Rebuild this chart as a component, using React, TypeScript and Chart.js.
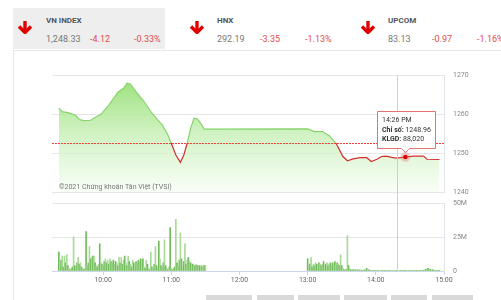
import React, { useEffect, useRef } from "react";
import { Chart, registerables } from "chart.js";
Chart.register(...registerables);

// ---------- DATA ----------
const REF_CLOSE = 1252.45;
const priceTimes = [561,564,570,576,579,583,589,594,598,605,613,618,621,624,629,636,643,648,652,657,660,664,668,671,674,677,680,683,686,689,780,786,793,799,805,808,811,815,820,826,832,836,841,845,849,854,858,866,873,882,885,896];
const priceValues = [1261.5,1260.6,1260.3,1259.6,1258.6,1258.3,1258.4,1259.3,1259.9,1262.3,1265.6,1266.6,1267.9,1267.7,1265.7,1263.2,1260.2,1258.5,1257.2,1254.6,1252.5,1249.5,1247.6,1249.5,1252.5,1256.3,1258.9,1258.7,1257.6,1256.1,1256.2,1255.5,1255.5,1254.4,1252.5,1250.8,1249.1,1248.0,1248.5,1248.8,1248.8,1247.8,1248.4,1249.1,1249.2,1248.9,1248.7,1248.96,1249.2,1249.2,1248.4,1248.33];

const volMorningStart = 561;
const volMorning = [
  14,4,8,11,3,11,6,12,4,2,
  1,2,3,25,4,3,6,10,5,6,
  3,2,1,2,29,4,6,18,9,10,
  11,11,6,4,3,5,20,6,5,4,
  7,9,6,8,5,9,7,6,8,5,
  7,6,4,10,6,10,5,8,11,6,
  4,11,7,5,3,8,6,4,7,6,
  8,7,9,8,9,3,2,8,5,2,
  1,14,3,2,5,18,4,3,22,9,
  4,3,6,23,4,2,1,3,32,2,
  1,2,3,38,6,3,8,28,9,4,
  7,20,5,8,10,7,6,5,5,4,
  4,5,4,4,4,4,3,4,4,4,
];
const volAfternoonStart = 780;
const volAfternoon = [
  9,3,5,10,3,5,4,6,5,4,
  6,5,4,5,7,4,5,6,4,5,
  6,4,6,5,7,4,6,5,4,12,
  4,2,1,1,1,26,4,
  1.5,1,0.8,1,0.8,1,0.6,0.8,1,0.6,0.8,0.5,0.6,0.8,1,2,1,0.8,0.5,
  0.4,0.3,0.5,0,0.4,0.3,0.5,0.4,0,0.3,
  0.5,0.4,0.3,0,0.4,0.5,0.3,0.4,0,0.3,
  0.4,0.5,0.3,0.4,0,0.3,0.4,0.3,0.2,0.3,
  0.08802,0.4,0,0.3,0.5,0.4,0.3,0,0.4,0.3,
  0.5,0.4,0.3,0.5,0.4,0.3,0.6,0.8,1.2,1.8,
  2,1.5,1.2,0.8,1,0.6,0.5,0.4,0.3,0.3,
  0.2,
];

const xTickValues = [600, 660, 720, 780, 840, 900];
const xTickLabels = ["10:00", "11:00", "12:00", "13:00", "14:00", "15:00"];
const priceTicks = [1240, 1250, 1260, 1270];
const priceTickLabels = ["1240", "1250", "1260", "1270"];
const volTicks = [0, 25, 50];
const volTickLabels = ["0", "25M", "50M"];

const TOOLTIP_TIME = 866;
const CROSSHAIR_TIME = 859;

const indices = [
  { name: "VN INDEX", value: "1,248.33", change: "-4.12", pct: "-0.33%" },
  { name: "HNX", value: "292.19", change: "-3.35", pct: "-1.13%" },
  { name: "UPCOM", value: "83.13", change: "-0.97", pct: "-1.16%" },
];

const X_MIN = 555;
const X_MAX = 900;
const FONT = "Roboto, 'Noto Sans', sans-serif";

function Arrow({ left, top }: { left: number; top: number }) {
  return (
    <svg style={{ position: "absolute", left, top }} width={16} height={13} viewBox="0 0 16 13">
      <line x1={8} y1={0} x2={8} y2={11} stroke="#e00000" strokeWidth={3.4} />
      <polyline points="2,5.5 8,11.5 14,5.5" fill="none" stroke="#e00000" strokeWidth={3.4} />
    </svg>
  );
}

export default function App() {
  const priceRef = useRef<HTMLCanvasElement>(null);
  const volRef = useRef<HTMLCanvasElement>(null);

  useEffect(() => {
    Chart.defaults.font.family = FONT;
    const volTimes: number[] = [];
    const volValues: number[] = [];
    volMorning.forEach((v, i) => { volTimes.push(volMorningStart + i); volValues.push(v); });
    volAfternoon.forEach((v, i) => { volTimes.push(volAfternoonStart + i); volValues.push(v); });

    const volChart = new Chart(volRef.current!, {
      type: "bar",
      data: {
        datasets: [{
          data: volTimes.map((t, i) => ({ x: t, y: volValues[i] })),
          backgroundColor: (c: any) => (c.dataIndex % 2 ? "#a9da98" : "#72bc5c"),
          barThickness: 1,
          borderWidth: 0,
        }],
      },
      options: {
        animation: false,
        responsive: false,
        layout: { padding: { left: 52, top: 203, right: 0, bottom: 0 } },
        plugins: { legend: { display: false }, tooltip: { enabled: false } },
        scales: {
          x: {
            type: "linear",
            offset: false,
            min: X_MIN,
            max: X_MAX,
            afterBuildTicks: (s: any) => { s.ticks = xTickValues.map((v) => ({ value: v })); },
            afterFit: (s: any) => { s.height = 29; },
            grid: { offset: false, drawOnChartArea: false, drawTicks: true, tickLength: 4, color: "#ccd6eb" },
            border: { display: true, color: "#ccd6eb" },
            ticks: {
              padding: 1,
              color: "#666",
              font: { size: 7, family: FONT },
              maxRotation: 0,
              autoSkip: false,
              callback: (v: any) => xTickLabels[xTickValues.indexOf(Number(v))] ?? "",
            },
          },
          y: {
            position: "right",
            min: 0,
            max: 50,
            afterBuildTicks: (s: any) => { s.ticks = volTicks.map((v) => ({ value: v })); },
            afterFit: (s: any) => { s.width = 57; },
            grid: { color: "#e6e6e6", drawTicks: false },
            border: { display: true, color: "#dfe3ea" },
            ticks: {
              padding: 9,
              color: "#888",
              font: { size: 7, family: FONT },
              callback: (v: any) => volTickLabels[volTicks.indexOf(Number(v))] ?? "",
            },
          },
        },
      },
    });

    const strokeGrad = (chart: any) => {
      const { ctx, chartArea, scales } = chart;
      if (!chartArea) return "#86d46a";
      const yRef = scales.y.getPixelForValue(REF_CLOSE);
      const f = Math.min(1, Math.max(0, (yRef - chartArea.top) / (chartArea.bottom - chartArea.top)));
      const g = ctx.createLinearGradient(0, chartArea.top, 0, chartArea.bottom);
      g.addColorStop(0, "#86d46a");
      g.addColorStop(f, "#86d46a");
      g.addColorStop(f, "#d32f2f");
      g.addColorStop(1, "#d32f2f");
      return g;
    };
    const fillGrad = (chart: any) => {
      const { ctx, chartArea } = chart;
      if (!chartArea) return "rgba(160,225,130,0.6)";
      const g = ctx.createLinearGradient(0, chartArea.top, 0, chartArea.bottom);
      g.addColorStop(0, "rgba(146,222,110,0.95)");
      g.addColorStop(0.5, "rgba(200,240,184,0.85)");
      g.addColorStop(1, "rgba(246,253,243,0.7)");
      return g;
    };

    const overlayPlugin = {
      id: "overlay",
      afterDatasetsDraw(chart: any) {
        const { ctx, chartArea, scales } = chart;
        ctx.save();
        // reference (previous close) dotted line, drawn as crisp pixel dots
        const yRef = Math.round(scales.y.getPixelForValue(REF_CLOSE));
        ctx.fillStyle = "#f0443a";
        for (let x = Math.round(chartArea.left); x < chartArea.right; x += 3) {
          ctx.fillRect(x, yRef, 2, 1);
        }
        // crosshair
        const cx = Math.round(scales.x.getPixelForValue(CROSSHAIR_TIME)) + 0.5;
        const bottom = volChart.chartArea ? volChart.chartArea.bottom : chartArea.bottom;
        ctx.strokeStyle = "#cfcfcf";
        ctx.lineWidth = 1;
        ctx.beginPath();
        ctx.moveTo(cx, chartArea.top);
        ctx.lineTo(cx, bottom);
        ctx.stroke();
        // copyright
        ctx.fillStyle = "#777";
        ctx.font = `7px ${FONT}`;
        ctx.textBaseline = "middle";
        ctx.fillText("©2021 Chứng khoán Tân Việt (TVSI)", chartArea.left + 7, chartArea.bottom - 5);
        ctx.restore();
      },
      afterDraw(chart: any) {
        const { ctx } = chart;
        const idx = priceTimes.indexOf(TOOLTIP_TIME);
        const el = chart.getDatasetMeta(0).data[idx];
        if (!el) return;
        const px = el.x, py = el.y;
        ctx.save();
        ctx.beginPath();
        ctx.arc(px, py, 5, 0, Math.PI * 2);
        ctx.fillStyle = "rgba(225,120,120,0.35)";
        ctx.fill();
        ctx.beginPath();
        ctx.arc(px, py, 2.3, 0, Math.PI * 2);
        ctx.fillStyle = "#e00000";
        ctx.fill();
        const w = 58, h = 37;
        const bx = Math.round(px - 28) + 0.5;
        const by = Math.round(py - 9 - h) + 0.5;
        ctx.beginPath();
        ctx.moveTo(bx, by);
        ctx.lineTo(bx + w, by);
        ctx.lineTo(bx + w, by + h);
        ctx.lineTo(px + 4, by + h);
        ctx.lineTo(px, by + h + 4);
        ctx.lineTo(px - 4, by + h);
        ctx.lineTo(bx, by + h);
        ctx.closePath();
        ctx.fillStyle = "rgba(255,255,255,0.93)";
        ctx.fill();
        ctx.strokeStyle = "#e57373";
        ctx.lineWidth = 1;
        ctx.stroke();
        const hh = Math.floor(TOOLTIP_TIME / 60);
        const mm = TOOLTIP_TIME % 60;
        const title = `${hh}:${String(mm).padStart(2, "0")} ${hh >= 12 ? "PM" : "AM"}`;
        const vIdx = TOOLTIP_TIME - volAfternoonStart;
        const vol = Math.round(volAfternoon[vIdx] * 1e6).toLocaleString("en-US");
        ctx.textBaseline = "middle";
        ctx.fillStyle = "#333";
        const tx = bx + 4.5;
        ctx.font = `7px ${FONT}`;
        ctx.fillText(title, tx, by + 9);
        const line = (label: string, val: string, y: number) => {
          ctx.font = `bold 7px ${FONT}`;
          ctx.fillText(label, tx, y);
          const lw = ctx.measureText(label).width;
          ctx.font = `7px ${FONT}`;
          ctx.fillText(val, tx + lw, y);
        };
        line("Chỉ số:", " " + priceValues[idx].toFixed(2), by + 19);
        line("KLGD:", " " + vol, by + 28);
        ctx.restore();
      },
    };

    const priceChart = new Chart(priceRef.current!, {
      type: "line",
      data: {
        datasets: [{
          data: priceTimes.map((t, i) => ({ x: t, y: priceValues[i] })),
          borderColor: (c: any) => strokeGrad(c.chart),
          backgroundColor: (c: any) => fillGrad(c.chart),
          fill: "start",
          borderWidth: 1.2,
          pointRadius: 0,
          tension: 0,
        }],
      },
      options: {
        animation: false,
        responsive: false,
        layout: { padding: { left: 52, top: 75, right: 0, bottom: 108 } },
        plugins: { legend: { display: false }, tooltip: { enabled: false } },
        scales: {
          x: { type: "linear", min: X_MIN, max: X_MAX, display: false },
          y: {
            position: "right",
            min: 1240,
            max: 1270,
            afterBuildTicks: (s: any) => { s.ticks = priceTicks.map((v) => ({ value: v })); },
            afterFit: (s: any) => { s.width = 57; },
            grid: { color: "#e6e6e6", drawTicks: false },
            border: { display: true, color: "#dfe3ea" },
            ticks: {
              padding: 9,
              color: "#888",
              font: { size: 7, family: FONT },
              callback: (v: any) => priceTickLabels[priceTicks.indexOf(Number(v))] ?? "",
            },
          },
        },
      },
      plugins: [overlayPlugin],
    });

    return () => {
      priceChart.destroy();
      volChart.destroy();
    };
  }, []);

  const textBase: React.CSSProperties = { position: "absolute", fontFamily: FONT, whiteSpace: "nowrap", lineHeight: "10px" };
  const positions = [
    { arrow: 17, name: 46, change: 90, pct: 134 },
    { arrow: 189, name: 217, change: 260, pct: 305 },
    { arrow: 360, name: 388, change: 432, pct: 477 },
  ];
  const buttons = [[206, 252], [257, 294], [298, 340], [344, 387], [391, 427], [432, 473]];

  return (
    <div style={{ position: "fixed", left: 0, top: 0, width: 501, height: 300, background: "#fff", overflow: "hidden" }}>
      <div style={{ position: "absolute", left: 13, top: 8, width: 152, height: 41, background: "#eeeeee" }} />
      <div style={{ position: "absolute", left: 13, top: 50, width: 488, height: 1, background: "#e8e8e8" }} />
      <div style={{ position: "absolute", left: 13, top: 50, width: 1, height: 250, background: "#e8e8e8" }} />
      {indices.map((d, i) => (
        <React.Fragment key={d.name}>
          <Arrow left={positions[i].arrow} top={21} />
          <div style={{ ...textBase, left: positions[i].name, top: 16, fontSize: 8, fontWeight: 700, color: "#555" }}>{d.name}</div>
          <div style={{ ...textBase, left: positions[i].name, top: 34, fontSize: 9, color: "#777" }}>{d.value}</div>
          <div style={{ ...textBase, left: positions[i].change, top: 34, fontSize: 9, color: "#e34b4b" }}>{d.change}</div>
          <div style={{ ...textBase, left: positions[i].pct, top: 34, fontSize: 9, color: "#e34b4b" }}>{d.pct}</div>
        </React.Fragment>
      ))}
      {buttons.map(([a, b]) => (
        <div key={a} style={{ position: "absolute", left: a, top: 295, width: b - a, height: 10, background: "#d9d9d9" }} />
      ))}
      <canvas ref={volRef} width={501} height={300} style={{ position: "absolute", left: 0, top: 0, width: 501, height: 300 }} />
      <canvas ref={priceRef} width={501} height={300} style={{ position: "absolute", left: 0, top: 0, width: 501, height: 300 }} />
    </div>
  );
}
